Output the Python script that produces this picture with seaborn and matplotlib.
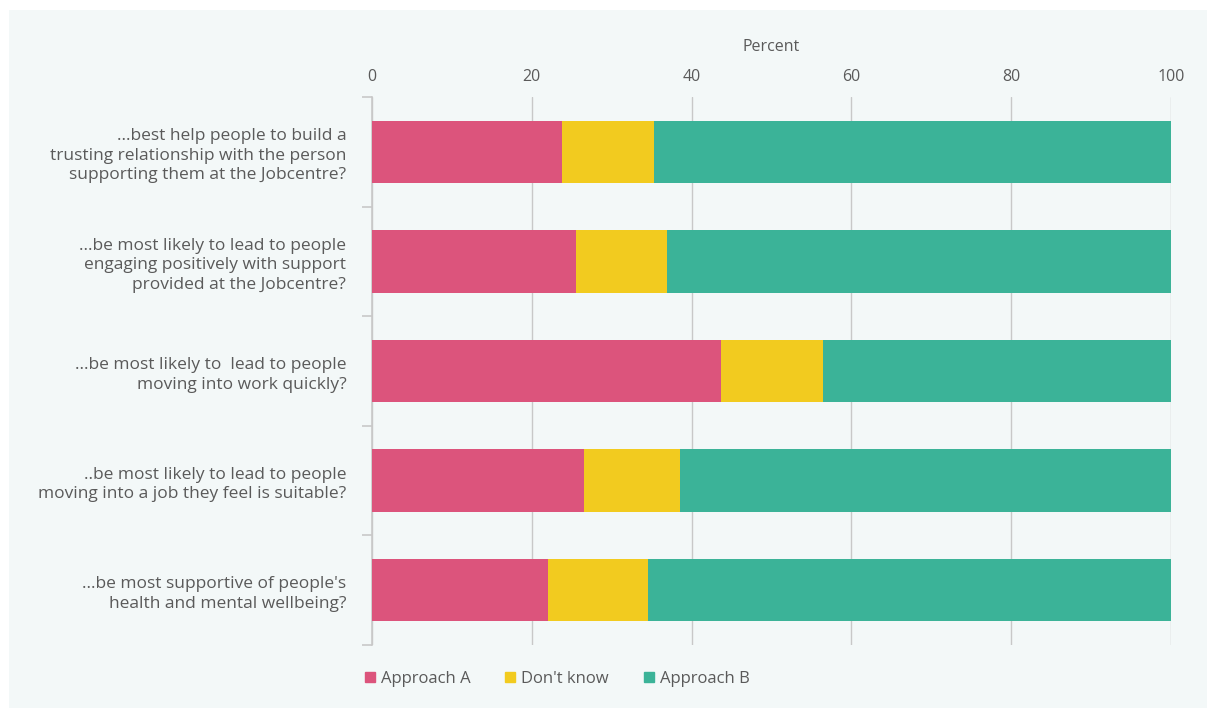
import numpy as np
import pandas as pd
import matplotlib.pyplot as plt
import matplotlib.patches as mpatches
import seaborn as sns

# Survey questions (y categories)
questions = [
    "...best help people to build a\ntrusting relationship with the person\nsupporting them at the Jobcentre?",
    "...be most likely to lead to people\nengaging positively with support\nprovided at the Jobcentre?",
    "...be most likely to  lead to people\nmoving into work quickly?",
    "..be most likely to lead to people\nmoving into a job they feel is suitable?",
    "...be most supportive of people's\nhealth and mental wellbeing?",
]
approach_a = [23.8, 25.5, 43.7, 26.5, 22.0]
dont_know = [11.5, 11.4, 12.7, 12.0, 12.5]
approach_b = [64.7, 63.1, 43.6, 61.5, 65.5]

series = ["Approach A", "Don't know", "Approach B"]
colors = {"Approach A": "#dc547c", "Don't know": "#f2cb1f", "Approach B": "#3bb398"}

df = pd.DataFrame({"question": questions, "Approach A": approach_a,
                   "Don't know": dont_know, "Approach B": approach_b})
df["cum_a"] = df["Approach A"]
df["cum_dk"] = df["cum_a"] + df["Don't know"]
df["cum_b"] = df["cum_dk"] + df["Approach B"]

sns.set_theme(style="white")
plt.rcParams['font.family'] = ['Open Sans', 'DejaVu Sans']
text_col = "#5a5a5a"
grid_col = "#c8c8c8"

fig = plt.figure(figsize=(12.07, 7.08), dpi=100, facecolor="white")
W, H = 1207, 708
fig.patches.append(mpatches.Rectangle((9 / W, 0), 1 - 9 / W, 1 - 10 / H,
                                      transform=fig.transFigure, facecolor="#f3f8f8",
                                      edgecolor="none", zorder=-10))
ax = fig.add_axes([372 / W, 1 - 645 / H, (1171 - 372) / W, (645 - 97) / H])
ax.set_facecolor("none")

# stacked bars: draw cumulative totals from back to front
for col, name in [("cum_b", "Approach B"), ("cum_dk", "Don't know"), ("cum_a", "Approach A")]:
    sns.barplot(data=df, x=col, y="question", orient="h", color=colors[name],
                width=0.57, ax=ax, saturation=1, linewidth=0, zorder=3)

ax.set_xlim(0, 100)
ax.set_ylim(len(questions) - 0.5, -0.5)
ax.set_xticks([0, 20, 40, 60, 80, 100])
ax.xaxis.tick_top()
ax.xaxis.set_label_position("top")
ax.set_xlabel("Percent", color=text_col, fontsize=11.5, labelpad=13)
ax.set_ylabel("")
ax.tick_params(axis="x", length=0, pad=8.5, labelsize=11.5, labelcolor=text_col)
ax.grid(axis="x", color=grid_col, linewidth=1, zorder=0)
ax.set_axisbelow(True)

ax.tick_params(axis="y", which="major", left=False, length=0, pad=18.5, labelsize=12.5,
               labelcolor=text_col)
ax.set_yticks(np.arange(-0.5, len(questions) + 0.5), minor=True)
ax.tick_params(axis="y", which="minor", left=True, length=7, color=grid_col, width=1.2)
for lbl in ax.get_yticklabels():
    lbl.set_horizontalalignment("right")
    lbl.set_multialignment("right")
    lbl.set_linespacing(1.3)

for s in ["top", "right", "bottom"]:
    ax.spines[s].set_visible(False)
ax.spines["left"].set_color(grid_col)
ax.spines["left"].set_linewidth(1.2)

handles = [mpatches.Patch(color=colors[s], label=s) for s in series]
fig.legend(handles=handles, loc="center left", bbox_to_anchor=(350 / W, 1 - 679 / H),
           ncol=3, frameon=False, fontsize=12, labelcolor=text_col,
           handlelength=0.6, handleheight=0.6, handletextpad=0.35, columnspacing=2.1)

fig.savefig("out.png", dpi=100, facecolor="white")
